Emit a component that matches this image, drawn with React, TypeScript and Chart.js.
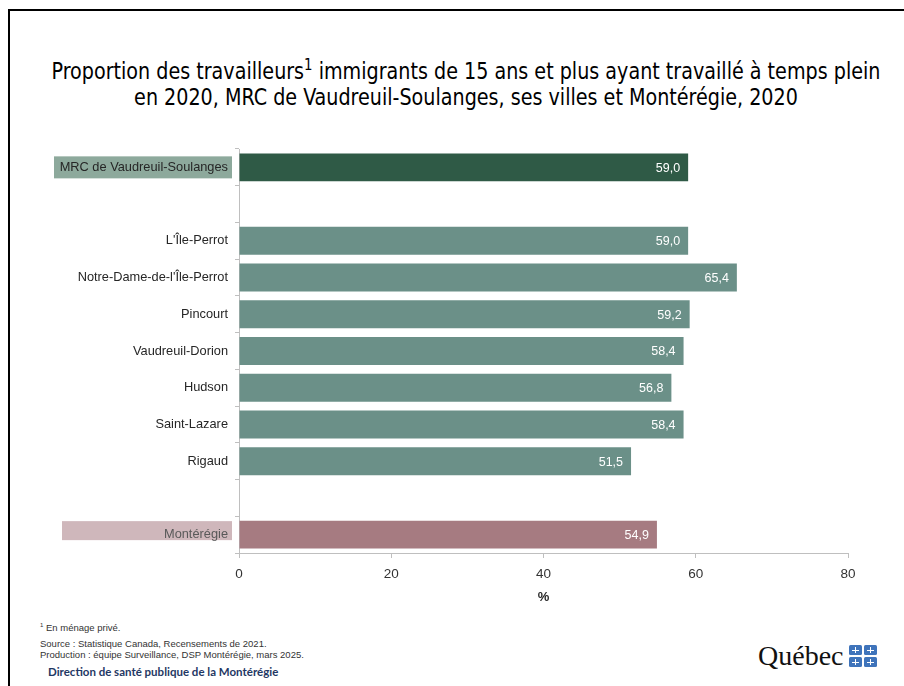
import React, { useEffect, useRef } from "react";
import { Chart, registerables } from "chart.js";

Chart.register(...registerables);

const categories = [
  "MRC de Vaudreuil-Soulanges",
  "",
  "L'Île-Perrot",
  "Notre-Dame-de-l'Île-Perrot",
  "Pincourt",
  "Vaudreuil-Dorion",
  "Hudson",
  "Saint-Lazare",
  "Rigaud",
  " ",
  "Montérégie",
];
const values: (number | null)[] = [59.0, null, 59.0, 65.4, 59.2, 58.4, 56.8, 58.4, 51.5, null, 54.9];
const barColors = [
  "#2f5a46", "#6b9088", "#6b9088", "#6b9088", "#6b9088", "#6b9088",
  "#6b9088", "#6b9088", "#6b9088", "#6b9088", "#a67b81",
];
const xTicks = [0, 20, 40, 60, 80];
const labelBoxes: { index: number; color: string; left: number }[] = [
  { index: 0, color: "#8da99c", left: 54 },
  { index: 10, color: "#cfb7bb", left: 62 },
];

const FONT = "'Liberation Sans', Arial, sans-serif";

const boxPlugin = {
  id: "labelBoxes",
  beforeDraw(chart: any) {
    const ctx = chart.ctx;
    const y = chart.scales.y;
    ctx.save();
    labelBoxes.forEach((b) => {
      const cy = y.getPixelForValue(b.index);
      const right = chart.chartArea.left - 7;
      ctx.fillStyle = b.color;
      const h = b.index === 0 ? 22 : 19;
      const off = b.index === 0 ? 0 : -4;
      ctx.fillRect(b.left, cy - h / 2 + off, right - b.left, h);
    });
    ctx.restore();
  },
};

const valueLabelPlugin = {
  id: "valueLabels",
  afterDatasetsDraw(chart: any) {
    const ctx = chart.ctx;
    const meta = chart.getDatasetMeta(0);
    ctx.save();
    ctx.font = `12.5px ${FONT}`;
    ctx.fillStyle = "#ffffff";
    ctx.textAlign = "right";
    ctx.textBaseline = "middle";
    meta.data.forEach((bar: any, i: number) => {
      const v = values[i];
      if (v === null || v === undefined) return;
      ctx.fillText(v.toFixed(1).replace(".", ","), bar.x - 8, bar.y + 1);
    });
    ctx.restore();
  },
};

function QuebecFlag() {
  const sq = (key: string) => (
    <div
      key={key}
      style={{
        width: 13,
        height: 10,
        background: "#3f74bb",
        borderRadius: 1.5,
        position: "relative",
      }}
    >
      <div style={{ position: "absolute", left: 6, top: 2, width: 1.5, height: 6, background: "#fff" }} />
      <div style={{ position: "absolute", left: 3, top: 4.5, width: 7, height: 1.5, background: "#fff" }} />
    </div>
  );
  return (
    <div style={{ display: "grid", gridTemplateColumns: "13px 13px", gap: 2 }}>
      {sq("a")}
      {sq("b")}
      {sq("c")}
      {sq("d")}
    </div>
  );
}

export default function App() {
  const ref = useRef<HTMLCanvasElement | null>(null);

  useEffect(() => {
    if (!ref.current) return;
    const chart = new Chart(ref.current, {
      type: "bar",
      data: {
        labels: categories,
        datasets: [
          {
            data: values,
            backgroundColor: barColors,
            barPercentage: 0.76,
            categoryPercentage: 1,
          },
        ],
      },
      options: {
        indexAxis: "y",
        responsive: false,
        animation: false,
        layout: { padding: { top: 19, bottom: 15, left: 0, right: 56 } },
        plugins: {
          legend: { display: false },
          tooltip: { enabled: false },
        },
        scales: {
          x: {
            min: 0,
            max: 80,
            afterBuildTicks: (scale: any) => {
              scale.ticks = xTicks.map((v) => ({ value: v }));
            },
            afterFit: (scale: any) => {
              scale.height = 52;
            },
            grid: {
              drawOnChartArea: false,
              drawTicks: true,
              tickLength: 5,
              color: "#bfbfbf",
            },
            border: { color: "#bfbfbf" },
            ticks: {
              padding: 8,
              color: "#333333",
              font: { family: FONT, size: 13.5 },
            },
            title: {
              display: true,
              text: "%",
              color: "#262626",
              font: { family: FONT, size: 13, weight: "bold" },
              padding: { top: 4, bottom: 0 },
            },
          },
          y: {
            afterFit: (scale: any) => {
              scale.width = 239;
            },
            grid: {
              drawOnChartArea: false,
              drawTicks: true,
              tickLength: 4,
              offset: true,
              color: "#bfbfbf",
            },
            border: { color: "#bfbfbf" },
            ticks: {
              autoSkip: false,
              padding: 7,
              color: (c: any) => (c.index === 10 ? "#595959" : "#262626"),
              font: { family: FONT, size: 12.8 },
            },
          },
        },
      },
      plugins: [boxPlugin, valueLabelPlugin],
    } as any);
    return () => chart.destroy();
  }, []);

  return (
    <div
      style={{
        position: "fixed",
        left: 0,
        top: 0,
        width: 904,
        height: 686,
        overflow: "hidden",
        background: "#ffffff",
      }}
    >
      <div
        style={{
          position: "absolute",
          left: 8,
          top: 9,
          width: 1000,
          height: 1000,
          borderLeft: "2px solid #000",
          borderTop: "2px solid #000",
        }}
      />
      <div
        style={{
          position: "absolute",
          left: 10,
          top: 58,
          width: 912,
          textAlign: "center",
          fontFamily: "'Liberation Sans Narrow', 'DejaVu Sans Condensed', Arial, sans-serif",
          fontSize: 23,
          lineHeight: "26px",
          color: "#000",
          transform: "scaleX(0.925)",
          transformOrigin: "center",
        }}
      >
        <div>
          Proportion des travailleurs<sup style={{ fontSize: 16, lineHeight: 0 }}>1</sup> immigrants de 15 ans et plus ayant travaillé à temps plein
        </div>
        <div>en 2020, MRC de Vaudreuil-Soulanges, ses villes et Montérégie, 2020</div>
      </div>
      <canvas
        ref={ref}
        width={904}
        height={490}
        style={{ position: "absolute", left: 0, top: 130, width: 904, height: 490 }}
      />
      <div
        style={{
          position: "absolute",
          left: 40,
          top: 620,
          fontFamily: FONT,
          fontSize: 9.5,
          color: "#333",
          lineHeight: "11px",
        }}
      >
        <div style={{ marginBottom: 5 }}>
          <sup style={{ fontSize: 6 }}>1</sup> En ménage privé.
        </div>
        <div>Source : Statistique Canada, Recensements de 2021.</div>
        <div>Production : équipe Surveillance, DSP Montérégie, mars 2025.</div>
      </div>
      <div
        style={{
          position: "absolute",
          left: 48,
          top: 665,
          fontFamily: "Lato, 'Open Sans', sans-serif",
          fontWeight: 700,
          fontSize: 11.5,
          color: "#1f3864",
        }}
      >
        Direction de santé publique de la Montérégie
      </div>
      <div
        style={{
          position: "absolute",
          left: 758,
          top: 641,
          display: "flex",
          alignItems: "center",
          gap: 5,
        }}
      >
        <span
          style={{
            fontFamily: "'Liberation Serif', 'DejaVu Serif', serif",
            fontSize: 28,
            color: "#111",
            lineHeight: "30px",
          }}
        >
          Québec
        </span>
        <QuebecFlag />
      </div>
    </div>
  );
}
